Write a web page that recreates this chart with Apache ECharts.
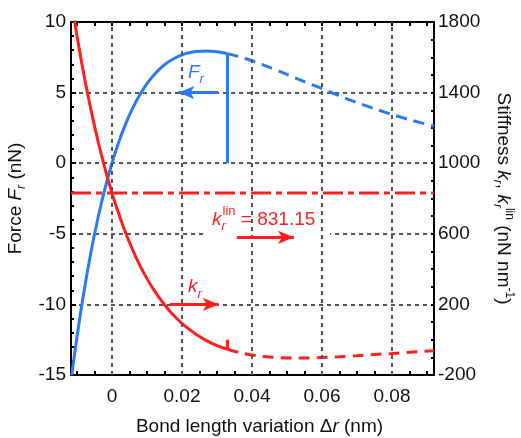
<!DOCTYPE html>
<html>
<head>
<meta charset="utf-8">
<script src="https://cdn.jsdelivr.net/npm/echarts@6/dist/echarts.min.js"></script>
<style>
  html, body { margin: 0; padding: 0; background: #fff; }
  #chart { width: 521px; height: 438px; }
</style>
</head>
<body>
<div id="chart"></div>
<script>
const FONT = '"Liberation Sans", Arial, sans-serif';
const BLUE = '#2b7af5';
const RED = '#ff1f1f';
const GRID_GRAY = '#555555';

// Bound branch (solid): bond length variation (nm), force (nN), stiffness (nN/nm)
const drBound     = [-0.0115, -0.010, -0.008, -0.006, -0.004, -0.002, 0.000, 0.002, 0.004, 0.006, 0.008, 0.010, 0.012, 0.015, 0.018, 0.021, 0.024, 0.027, 0.030, 0.033];
const forceBound  = [-15.03, -12.31, -9.10, -6.30, -3.88, -1.80, 0.00, 1.54, 2.84, 3.94, 4.86, 5.63, 6.25, 6.97, 7.45, 7.76, 7.91, 7.95, 7.89, 7.76];
const stiffBound  = [1908, 1722, 1500, 1302, 1126, 970, 831, 709, 600, 505, 420, 346, 281, 198, 130, 75, 31, -5, -33, -54];

// Broken branch (dashed), beyond the rupture point
const drBroken    = [0.033, 0.037, 0.041, 0.045, 0.050, 0.055, 0.060, 0.065, 0.070, 0.075, 0.080, 0.086, 0.092];
const forceBroken = [7.76, 7.50, 7.17, 6.79, 6.29, 5.77, 5.28, 4.76, 4.29, 3.86, 3.45, 3.01, 2.62];
const stiffBroken = [-54, -76, -90, -98, -103, -104, -101, -97, -91, -84, -78, -70, -62];

// Linear stiffness and rupture position
const kLin = 831.15;
const drRupture = 0.033;

// Axis extents and tick values
const xMin = -0.0117, xMax = 0.092;
const xTickValues  = [-0.010, -0.005, 0.000, 0.005, 0.010, 0.015, 0.020, 0.025, 0.030, 0.035, 0.040, 0.045, 0.050, 0.055, 0.060, 0.065, 0.070, 0.075, 0.080, 0.085, 0.090];
const xLabelValues = [0, 0.02, 0.04, 0.06, 0.08];
const xLabelText   = ['0', '0.02', '0.04', '0.06', '0.08'];
const forceMin = -15, forceMax = 10, forceStep = 5;
const stiffMin = -200, stiffMax = 1800;
const stiffLabelValues = [-200, 200, 600, 1000, 1400, 1800];

const pairs = (xs, ys) => xs.map((x, i) => [x, ys[i]]);

const chart = echarts.init(document.getElementById('chart'), null, { renderer: 'canvas' });

const FS = 19;
const labelStyle = { fontFamily: FONT, fontSize: FS, color: '#111' };
const axisLine = { show: true, onZero: false, lineStyle: { color: '#000', width: 2 } };
const richScripts = {
  it:  { fontFamily: FONT, fontSize: FS, fontStyle: 'italic', color: '#111', lineHeight: 24 },
  sub: { fontFamily: FONT, fontSize: 12, fontStyle: 'italic', color: '#111', lineHeight: 12, verticalAlign: 'bottom' },
  sup: { fontFamily: FONT, fontSize: 12, color: '#111', lineHeight: 12, verticalAlign: 'top' },
  rm:  { fontFamily: FONT, fontSize: FS, color: '#111', lineHeight: 24 }
};

const option = {
  animation: false,
  backgroundColor: '#fff',
  grid: { left: 71, right: 87, top: 22, bottom: 63, containLabel: false, outerBoundsMode: 'none' },
  xAxis: [
    {
      type: 'value', position: 'bottom', min: xMin, max: xMax,
      axisLine: axisLine,
      axisTick: { show: true, inside: true, length: 4, customValues: xTickValues, lineStyle: { color: '#000', width: 2 } },
      axisLabel: Object.assign({ customValues: xLabelValues, margin: 12,
        formatter: v => xLabelText[xLabelValues.findIndex(t => Math.abs(t - v) < 1e-9)] }, labelStyle),
      splitLine: { show: false },
      name: '{rm|Bond length variation Δ}{it|r}{rm| (nm)}',
      nameLocation: 'middle', nameGap: 40,
      nameTextStyle: { fontFamily: FONT, fontSize: FS, color: '#111', padding: [0, 0, 0, 14], rich: richScripts }
    },
    {
      type: 'value', position: 'top', min: xMin, max: xMax,
      axisLine: axisLine,
      axisTick: { show: true, inside: true, length: 4, customValues: xTickValues, lineStyle: { color: '#000', width: 2 } },
      axisLabel: { show: false },
      splitLine: { show: false }
    }
  ],
  yAxis: [
    {
      type: 'value', position: 'left', min: forceMin, max: forceMax, interval: forceStep,
      axisLine: axisLine,
      axisTick: { show: true, inside: true, length: 5, lineStyle: { color: '#000', width: 2 } },
      minorTick: { show: true, splitNumber: 5, length: 3, lineStyle: { color: '#000', width: 2 } },
      axisLabel: Object.assign({ margin: 5 }, labelStyle),
      splitLine: { show: true, lineStyle: { color: GRID_GRAY, width: 2, type: [4, 4] } },
      name: '{rm|Force }{it|F}{sub|r}{rm| (nN)}',
      nameLocation: 'middle', nameGap: 24,
      nameTextStyle: { fontFamily: FONT, fontSize: FS, color: '#111', rich: richScripts }
    },
    {
      type: 'value', position: 'right', min: stiffMin, max: stiffMax, interval: 100,
      axisLine: axisLine,
      axisTick: { show: true, inside: true, length: 3, lineStyle: { color: '#000', width: 2 } },
      axisLabel: Object.assign({ margin: 4, customValues: stiffLabelValues, formatter: v => String(v) }, labelStyle),
      splitLine: { show: false },
      name: '{rm|Stiffness }{it|k}{sub|r}{rm|, }{it|k}{sub|r}{sup|lin}{rm| (nN nm}{sup|-1}{rm|)}',
      nameLocation: 'middle', nameGap: 57, nameRotate: -90,
      nameTextStyle: { fontFamily: FONT, fontSize: FS, color: '#111', rich: richScripts }
    }
  ],
  series: [
    // vertical grid lines at the labelled bond length values
    {
      type: 'line', xAxisIndex: 0, yAxisIndex: 0, data: [], z: 1, silent: true,
      markLine: {
        silent: true, symbol: ['none', 'none'], label: { show: false },
        lineStyle: { color: GRID_GRAY, width: 2, type: [4, 4] },
        data: xLabelValues.map(v => ({ xAxis: v }))
      }
    },
    // force, bound branch
    {
      type: 'line', name: 'F', xAxisIndex: 0, yAxisIndex: 0, data: pairs(drBound, forceBound),
      smooth: 0.3, showSymbol: false, clip: true,
      lineStyle: { color: BLUE, width: 3 }
    },
    // force, broken branch
    {
      type: 'line', xAxisIndex: 0, yAxisIndex: 0, data: pairs(drBroken, forceBroken),
      smooth: 0.3, showSymbol: false, clip: true,
      lineStyle: { color: BLUE, width: 3, type: [11, 7] }
    },
    // force drop at rupture
    {
      type: 'line', xAxisIndex: 0, yAxisIndex: 0,
      data: [[drRupture, 0], [drRupture, forceBound[forceBound.length - 1]]],
      showSymbol: false, lineStyle: { color: BLUE, width: 3 }
    },
    // stiffness, bound branch
    {
      type: 'line', name: 'k', xAxisIndex: 0, yAxisIndex: 1, data: pairs(drBound, stiffBound),
      smooth: 0.3, showSymbol: false, clip: true,
      lineStyle: { color: RED, width: 3 }
    },
    // stiffness, broken branch
    {
      type: 'line', xAxisIndex: 0, yAxisIndex: 1, data: pairs(drBroken, stiffBroken),
      smooth: 0.3, showSymbol: false, clip: true,
      lineStyle: { color: RED, width: 3, type: [11, 7] }
    },
    // stiffness step at rupture
    {
      type: 'line', xAxisIndex: 0, yAxisIndex: 1,
      data: [[drRupture, 0], [drRupture, stiffBound[stiffBound.length - 1]]],
      showSymbol: false, lineStyle: { color: RED, width: 3 }
    },
    // linear stiffness
    {
      type: 'line', xAxisIndex: 0, yAxisIndex: 1, data: [[xMin, kLin], [xMax, kLin]],
      showSymbol: false, lineStyle: { color: RED, width: 3, type: [20, 5, 6, 5] }
    },
    // arrow pointing from the force curve to its axis
    {
      type: 'line', xAxisIndex: 0, yAxisIndex: 0, data: [], z: 3,
      markLine: {
        silent: true, symbol: ['none', 'arrow'], symbolSize: [10, 16], label: { show: false },
        lineStyle: { color: BLUE, width: 3, type: 'solid' },
        data: [[{ coord: [0.0303, 5] }, { coord: [0.0190, 5] }]]
      }
    },
    // arrows pointing from the stiffness annotations to the stiffness axis
    {
      type: 'line', xAxisIndex: 0, yAxisIndex: 1, data: [], z: 3,
      markLine: {
        silent: true, symbol: ['none', 'arrow'], symbolSize: [10, 16], label: { show: false },
        lineStyle: { color: RED, width: 3, type: 'solid' },
        data: [
          [{ coord: [0.0166, 200] }, { coord: [0.0305, 200] }],
          [{ coord: [0.0357, 580] }, { coord: [0.0520, 580] }]
        ]
      }
    }
  ]
};

chart.setOption(option);

// Annotation labels, placed in data coordinates
const onForce = p => chart.convertToPixel({ seriesIndex: 1 }, p);
const onStiff = p => chart.convertToPixel({ seriesIndex: 4 }, p);

const measureCtx = document.createElement('canvas').getContext('2d');
function textWidth(str, size, italic) {
  measureCtx.font = (italic ? 'italic ' : '') + size + 'px ' + FONT;
  return measureCtx.measureText(str).width;
}

const ANN = 19, ANN_SMALL = 13;
function plain(str, x, y, color, size, italic) {
  return {
    type: 'text', z: 10, silent: true, x: x, y: y,
    style: { text: str, fill: color, fontFamily: FONT, fontSize: size, fontStyle: italic ? 'italic' : 'normal',
             verticalAlign: 'middle', align: 'left' }
  };
}

// symbol with italic subscript r (and optional stacked superscript)
function symbolLabel(pos, letter, color, sup, tail) {
  const items = [];
  const x0 = pos[0], y0 = pos[1];
  const wLetter = textWidth(letter, ANN, true);
  items.push(plain(letter, x0, y0, color, ANN, true));
  items.push(plain('r', x0 + wLetter, y0 + 7, color, ANN_SMALL, true));
  let xEnd = x0 + wLetter + textWidth('r', ANN_SMALL, true);
  if (sup) {
    items.push(plain(sup, x0 + wLetter + 1, y0 - 8, color, ANN_SMALL, false));
    xEnd = Math.max(xEnd, x0 + wLetter + 1 + textWidth(sup, ANN_SMALL, false));
  }
  if (tail) items.push(plain(tail, xEnd, y0, color, ANN, false));
  return items;
}

const fPos = onForce([0.0217, 6.4]);
const kPos = onStiff([0.0217, 298]);
const linPos = onStiff([0.0286, 680]);
const boxA = onStiff([0.0266, 808]);
const boxB = onStiff([0.0623, 542]);

chart.setOption({
  graphic: [
    {
      type: 'rect', z: 2, silent: true,
      shape: { x: boxA[0], y: boxA[1], width: boxB[0] - boxA[0], height: boxB[1] - boxA[1] },
      style: { fill: '#fff' }
    }
  ].concat(
    symbolLabel(fPos, 'F', BLUE),
    symbolLabel(kPos, 'k', RED),
    symbolLabel(linPos, 'k', RED, 'lin', ' = ' + kLin.toFixed(2))
  )
});
</script>
</body>
</html>
